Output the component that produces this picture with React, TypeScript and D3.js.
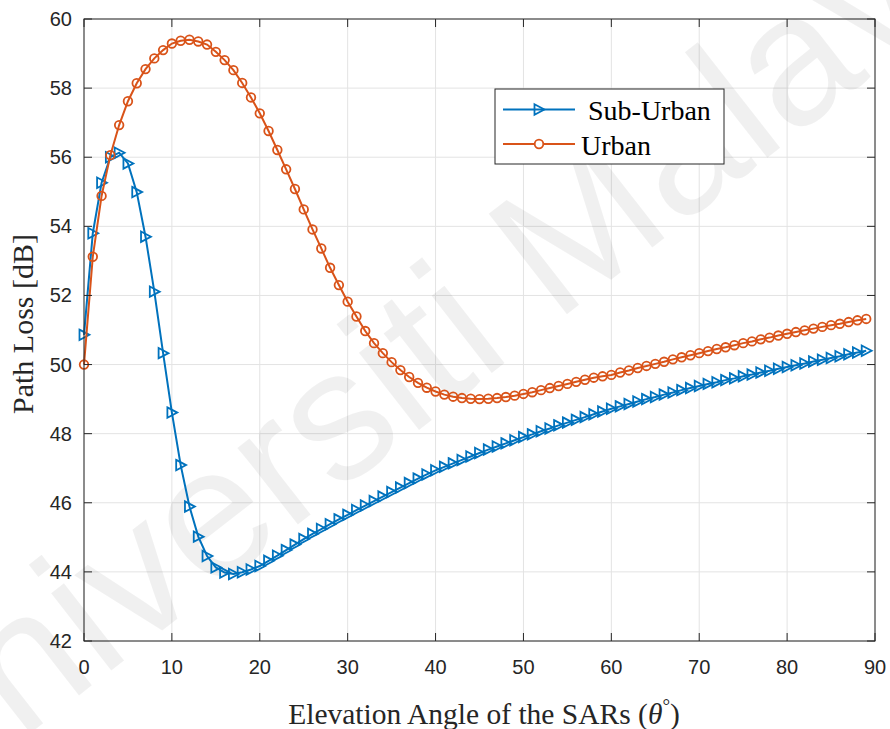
import React from "react";
import * as d3 from "d3";

const angles: number[] = Array.from({ length: 90 }, (_, i) => i);

const subUrban: number[] = [
  50.86, 53.8, 55.26, 56.0, 56.13, 55.82, 54.99, 53.7, 52.11, 50.33,
  48.61, 47.09, 45.89, 45.02, 44.46, 44.13, 43.98, 43.94, 43.99, 44.07,
  44.17, 44.32, 44.47, 44.63, 44.79, 44.95, 45.1, 45.24, 45.38, 45.52,
  45.65, 45.79, 45.92, 46.05, 46.18, 46.31, 46.44, 46.57, 46.7, 46.82,
  46.94, 47.04, 47.14, 47.24, 47.34, 47.44, 47.54, 47.63, 47.72, 47.81,
  47.9, 47.98, 48.07, 48.15, 48.24, 48.32, 48.4, 48.48, 48.56, 48.64,
  48.72, 48.79, 48.86, 48.93, 49.0, 49.06, 49.13, 49.19, 49.26, 49.32,
  49.38, 49.44, 49.49, 49.55, 49.6, 49.66, 49.71, 49.77, 49.82, 49.88,
  49.93, 49.98, 50.03, 50.09, 50.14, 50.19, 50.24, 50.3, 50.35, 50.4,
];

const urban: number[] = [
  50.0, 53.12, 54.88, 56.06, 56.93, 57.62, 58.14, 58.55, 58.86, 59.1,
  59.29, 59.37, 59.4, 59.35, 59.26, 59.05, 58.81, 58.52, 58.15, 57.73,
  57.27, 56.76, 56.21, 55.65, 55.08, 54.49, 53.91, 53.36, 52.8, 52.3,
  51.82, 51.39, 50.97, 50.62, 50.33, 50.07, 49.84, 49.64, 49.47, 49.33,
  49.22, 49.13, 49.07, 49.03, 49.01, 49.0, 49.01, 49.03, 49.06, 49.1,
  49.15, 49.2, 49.26, 49.32, 49.38, 49.44, 49.5, 49.56, 49.62, 49.66,
  49.7, 49.77, 49.83, 49.9, 49.96, 50.02, 50.08, 50.15, 50.21, 50.27,
  50.33, 50.39, 50.45, 50.5, 50.56, 50.62, 50.67, 50.73, 50.78, 50.84,
  50.89, 50.94, 50.99, 51.04, 51.09, 51.14, 51.18, 51.23, 51.28, 51.32,
];

const xTicks: number[] = [0, 10, 20, 30, 40, 50, 60, 70, 80, 90];
const yTicks: number[] = [42, 44, 46, 48, 50, 52, 54, 56, 58, 60];
const seriesNames: string[] = ["Sub-Urban", "Urban"];
const xLabel = "Elevation Angle of the SARs (";
const yLabel = "Path Loss [dB]";
const watermark = "Universiti Malaya";

const BLUE = "#0072BD";
const ORANGE = "#D95319";
const AX = "#262626";
const GRID = "#e3e3e3";

const W = 890;
const H = 729;
const L = 84, R = 875, T = 19, B = 641;

function triPath(cx: number, cy: number, s: number) {
  // right-pointing triangle
  const h = s;
  return `M${cx - h * 0.5},${cy - h * 0.58}L${cx + h * 0.6},${cy}L${cx - h * 0.5},${cy + h * 0.58}Z`;
}

export default function App() {
  const x = d3.scaleLinear().domain([0, 90]).range([L, R]);
  const y = d3.scaleLinear().domain([42, 60]).range([B, T]);
  const line = d3
    .line<number>()
    .x((_, i) => x(angles[i]))
    .y((d) => y(d));

  const tickLen = 8;
  const sans = "'Liberation Sans', Arial, Helvetica, sans-serif";
  const serif = "'Liberation Serif', 'Times New Roman', serif";

  return (
    <svg
      width={W}
      height={H}
      style={{ position: "absolute", left: 0, top: 0, background: "#fff" }}
    >
      <rect x={0} y={0} width={W} height={H} fill="#fff" />
      <rect x={L} y={T} width={R - L} height={B - T} fill="#fff" />
      {/* grid */}
      {xTicks.map((t) => (
        <line key={"gx" + t} x1={x(t)} x2={x(t)} y1={T} y2={B} stroke={GRID} strokeWidth={1} />
      ))}
      {yTicks.map((t) => (
        <line key={"gy" + t} x1={L} x2={R} y1={y(t)} y2={y(t)} stroke={GRID} strokeWidth={1} />
      ))}
      {/* watermark */}
      <text
        x={0}
        y={0}
        transform="translate(470,390) rotate(-38)"
        textAnchor="middle"
        fontFamily={sans}
        fontSize={185}
        fill="#000"
        fillOpacity={0.06}
      >
        {watermark}
      </text>
      {/* series */}
      <path d={line(subUrban) || ""} fill="none" stroke={BLUE} strokeWidth={2} />
      {subUrban.map((v, i) => (
        <path
          key={"s" + i}
          d={triPath(x(angles[i]), y(v), 9)}
          fill="none"
          stroke={BLUE}
          strokeWidth={1.8}
        />
      ))}
      <path d={line(urban) || ""} fill="none" stroke={ORANGE} strokeWidth={2} />
      {urban.map((v, i) => (
        <circle
          key={"u" + i}
          cx={x(angles[i])}
          cy={y(v)}
          r={4.3}
          fill="none"
          stroke={ORANGE}
          strokeWidth={1.8}
        />
      ))}
      {/* axes box */}
      <rect x={L} y={T} width={R - L} height={B - T} fill="none" stroke={AX} strokeWidth={1} />
      {xTicks.map((t) => (
        <g key={"tx" + t}>
          <line x1={x(t)} x2={x(t)} y1={B} y2={B - tickLen} stroke={AX} />
          <line x1={x(t)} x2={x(t)} y1={T} y2={T + tickLen} stroke={AX} />
          <text
            x={x(t)}
            y={674}
            textAnchor="middle"
            fontFamily={sans}
            fontSize={20}
            fill={AX}
          >
            {t}
          </text>
        </g>
      ))}
      {yTicks.map((t) => (
        <g key={"ty" + t}>
          <line x1={L} x2={L + tickLen} y1={y(t)} y2={y(t)} stroke={AX} />
          <line x1={R} x2={R - tickLen} y1={y(t)} y2={y(t)} stroke={AX} />
          <text
            x={72}
            y={y(t) + 7}
            textAnchor="end"
            fontFamily={sans}
            fontSize={20}
            fill={AX}
          >
            {t}
          </text>
        </g>
      ))}
      {/* axis labels */}
      <text
        x={484}
        y={724}
        textAnchor="middle"
        fontFamily={serif}
        fontSize={29.5}
        fill={AX}
      >
        {xLabel}
        <tspan fontStyle="italic">θ</tspan>
        <tspan dy={-12} fontSize={19}>°</tspan>
        <tspan dy={12}>)</tspan>
      </text>
      <text
        transform="translate(33,324) rotate(-90)"
        textAnchor="middle"
        fontFamily={serif}
        fontSize={30}
        fill={AX}
      >
        {yLabel}
      </text>
      {/* legend */}
      <g>
        <rect x={495} y={89} width={229} height={75} fill="#fff" stroke={AX} strokeWidth={1} />
        <line x1={503} x2={575} y1={109.5} y2={109.5} stroke={BLUE} strokeWidth={2} />
        <path d={triPath(539, 109.5, 9)} fill="none" stroke={BLUE} strokeWidth={1.8} />
        <text x={588} y={120} fontFamily={serif} fontSize={28} fill="#000">
          {seriesNames[0]}
        </text>
        <line x1={503} x2={575} y1={144} y2={144} stroke={ORANGE} strokeWidth={2} />
        <circle cx={539} cy={144} r={4.3} fill="#fff" stroke={ORANGE} strokeWidth={1.8} />
        <text x={581} y={155} fontFamily={serif} fontSize={28} fill="#000">
          {seriesNames[1]}
        </text>
      </g>
    </svg>
  );
}
